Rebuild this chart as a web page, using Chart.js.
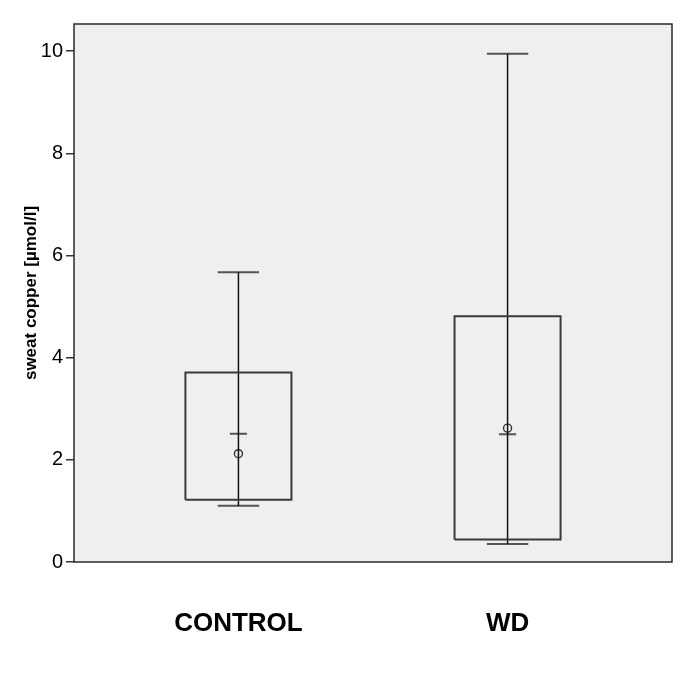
<html>

<head>
  <title>sweat copper</title>
  <script src="https://cdn.jsdelivr.net/npm/chart.js"></script>
</head>

<body style="margin:0;background:#fff">
  <div style="width:685px;height:685px">
    <canvas id="boxChart"></canvas>
  </div>
  <script>
    // values (umol/l)
    const groups = ['CONTROL', 'WD'];
    const lowWhisker = [1.10, 0.35];
    const q1 = [1.22, 0.44];
    const median = [2.51, 2.50];
    const mean = [2.12, 2.62];
    const q3 = [3.71, 4.81];
    const highWhisker = [5.67, 9.95];
    const yTicks = [0, 2, 4, 6, 8, 10];

    // half widths in x-axis units
    const boxHalf = 0.197, capHalf = 0.077, medHalf = 0.032;

    function lineSet(points, color, width) {
      return {
        data: points,
        showLine: true,
        borderColor: color,
        borderWidth: width,
        pointRadius: 0,
        fill: false,
        tension: 0
      }
    }

    let datasets = [];
    groups.forEach((g, i) => {
      let x = i + 1;
      datasets.push(lineSet([
        { x: x - boxHalf, y: q1[i] }, { x: x - boxHalf, y: q3[i] },
        { x: x + boxHalf, y: q3[i] }, { x: x + boxHalf, y: q1[i] },
        { x: x - boxHalf, y: q1[i] }
      ], '#3a3a3a', 2));
      datasets.push(lineSet([{ x: x, y: lowWhisker[i] }, { x: x, y: highWhisker[i] }], '#111', 1.5));
      datasets.push(lineSet([{ x: x - capHalf, y: lowWhisker[i] }, { x: x + capHalf, y: lowWhisker[i] }], '#555', 2));
      datasets.push(lineSet([{ x: x - capHalf, y: highWhisker[i] }, { x: x + capHalf, y: highWhisker[i] }], '#555', 2));
      datasets.push(lineSet([{ x: x - medHalf, y: median[i] }, { x: x + medHalf, y: median[i] }], '#555', 2));
      datasets.push({
        data: [{ x: x, y: mean[i] }],
        pointStyle: 'circle',
        pointRadius: 4,
        pointBorderWidth: 1.4,
        pointBorderColor: '#333',
        pointBackgroundColor: 'rgba(0,0,0,0)',
        showLine: false
      });
    });

    const plotBack = {
      id: 'plotBack',
      beforeDraw(chart) {
        const { ctx, chartArea: a } = chart;
        ctx.save();
        ctx.fillStyle = '#efefef';
        ctx.fillRect(a.left, a.top, a.right - a.left, a.bottom - a.top);
        ctx.restore();
      },
      afterDraw(chart) {
        const { ctx, chartArea: a } = chart;
        ctx.save();
        ctx.strokeStyle = '#2a2a2a';
        ctx.lineWidth = 1.5;
        ctx.strokeRect(a.left, a.top, a.right - a.left, a.bottom - a.top);
        ctx.restore();
      }
    };

    new Chart(document.getElementById('boxChart'), {
      type: 'scatter',
      data: { datasets: datasets },
      plugins: [plotBack],
      options: {
        responsive: true,
        maintainAspectRatio: false,
        animation: false,
        layout: { padding: { top: 24, right: 13, left: 0, bottom: 0 } },
        plugins: { legend: { display: false }, tooltip: { enabled: false } },
        scales: {
          x: {
            type: 'linear',
            min: 0.389,
            max: 2.611,
            grid: { display: false },
            border: { display: false },
            afterBuildTicks: (scale) => {
              scale.ticks = groups.map((g, i) => ({ value: i + 1 }));
            },
            afterFit: (scale) => { scale.height = 123; },
            ticks: {
              autoSkip: false,
              maxRotation: 0,
              padding: 38,
              color: '#000',
              font: { family: 'Liberation Sans', size: 26, weight: 'bold' },
              callback: (v) => groups[v - 1]
            }
          },
          y: {
            min: 0,
            max: 10.53,
            afterBuildTicks: (scale) => {
              scale.ticks = yTicks.map(v => ({ value: v }));
            },
            afterFit: (scale) => { scale.width = 74; },
            grid: { drawOnChartArea: false, tickLength: 8, color: '#333', lineWidth: 1.5 },
            border: { display: false },
            ticks: {
              padding: 3,
              color: '#000',
              font: { family: 'Liberation Sans', size: 20 }
            },
            title: {
              display: true,
              text: 'sweat copper [µmol/l]',
              color: '#000',
              padding: { top: 21, bottom: 0 },
              font: { family: 'Liberation Sans', size: 17, weight: 'bold' }
            }
          }
        }
      }
    });
  </script>
</body>

</html>
